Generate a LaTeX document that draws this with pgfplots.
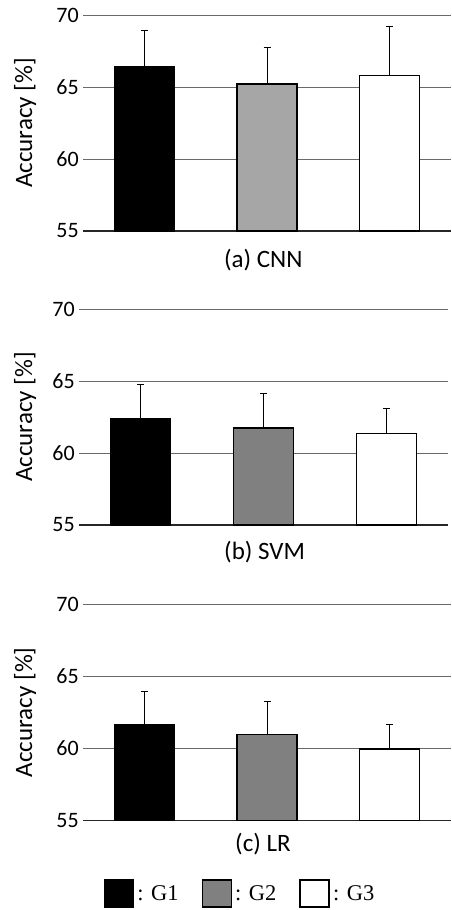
\documentclass[border=0pt]{standalone}
\usepackage{pgfplots}
\pgfplotsset{compat=1.18}
\usepackage{fontspec}
\setmainfont{Carlito}
\newfontfamily\legfont{Liberation Serif}
\definecolor{gridc}{RGB}{105,105,105}
\definecolor{lgray}{RGB}{166,166,166}
\definecolor{mgray}{RGB}{128,128,128}
\pgfplotsset{
  panel/.style={
    scale only axis,
    height=216pt,
    xmin=-0.5, xmax=2.5,
    ymin=55, ymax=70,
    ytick={55,60,65,70},
    yticklabels={55,60,65,70},
    extra y ticks={55},
    extra y tick labels={},
    extra y tick style={grid style={black!85, line width=1.5pt}},
    xtick=\empty,
    axis line style={draw=none},
    major tick length=0pt,
    ymajorgrids,
    grid style={gridc, line width=1pt},
    yticklabel style={font=\fontsize{22}{22}\selectfont, inner xsep=4pt},
    ylabel={Accuracy [\%]},
    label style={font=\fontsize{25}{25}\selectfont},
  },
  gbar/.style={
    ybar, bar shift=0pt, bar width=60pt, draw=black, line width=1.6pt,
    error bars/y dir=plus, error bars/y explicit,
    error bars/error mark=-,
    error bars/error bar style={black, line width=1pt},
    error bars/error mark options={black, line width=1pt, mark size=3.5pt, rotate=90},
  },
  boxleg/.style={legend image code/.code={\draw[#1, line width=1.6pt] (0pt,-13.5pt) rectangle (29pt,13.5pt);}},
}
\begin{document}
\begin{tikzpicture}
\path[use as bounding box] (0pt,0pt) rectangle (451pt,-910pt);
% (a) CNN
\begin{axis}[panel, width=368pt, at={(83pt,-15pt)}, anchor=north west,
  ylabel style={at={(axis description cs:-0.1576,0.5)}, anchor=center},
  xlabel={(a) CNN},
  xlabel style={at={(axis description cs:0.49,-0.134)}, anchor=center}]
\addplot[gbar, fill=black] coordinates {(0,66.4) +- (0,2.5)};
\addplot[gbar, fill=lgray] coordinates {(1,65.2) +- (0,2.55)};
\addplot[gbar, fill=white] coordinates {(2,65.8) +- (0,3.4)};
\end{axis}
% (b) SVM
\begin{axis}[panel, width=369pt, at={(79pt,-309pt)}, anchor=north west,
  ylabel style={at={(axis description cs:-0.1463,0.5)}, anchor=center},
  xlabel={(b) SVM},
  xlabel style={at={(axis description cs:0.503,-0.124)}, anchor=center}]
\addplot[gbar, fill=black] coordinates {(0,62.35) +- (0,2.4)};
\addplot[gbar, fill=mgray] coordinates {(1,61.75) +- (0,2.35)};
\addplot[gbar, fill=white] coordinates {(2,61.35) +- (0,1.75)};
\end{axis}
% (c) LR
\begin{axis}[panel, width=368pt, at={(83pt,-604.3pt)}, anchor=north west,
  ylabel style={at={(axis description cs:-0.1576,0.5)}, anchor=center},
  xlabel={(c) LR},
  xlabel style={at={(axis description cs:0.489,-0.108)}, anchor=center},
  legend columns=3,
  legend style={draw=none, fill=none, at={(axis description cs:0.428,-0.339)}, anchor=center,
    font=\legfont\fontsize{22.5}{22.5}\selectfont,
    /tikz/every even column/.append style={column sep=20pt},
    nodes={inner xsep=3pt}}]
\addplot[gbar, fill=black, boxleg] coordinates {(0,61.6) +- (0,2.35)};
\addlegendentry{: G1}
\addplot[gbar, fill=mgray, boxleg] coordinates {(1,60.95) +- (0,2.3)};
\addlegendentry{: G2}
\addplot[gbar, fill=white, boxleg] coordinates {(2,59.95) +- (0,1.7)};
\addlegendentry{: G3}
\end{axis}
\end{tikzpicture}
\end{document}
